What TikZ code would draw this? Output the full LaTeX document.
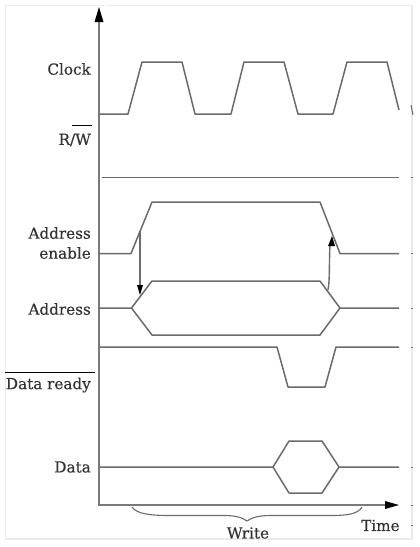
\documentclass[tikz,border=0pt]{standalone}
\usepackage{fontspec}
\setmainfont[FakeBold=0.4]{DejaVu Serif}
\usetikzlibrary{arrows.meta}
\definecolor{sig}{gray}{0.42}
\definecolor{ax}{gray}{0.48}
\definecolor{lab}{gray}{0.2}
\definecolor{fr}{gray}{0.92}
\tikzset{
  x=1pt,y=-1pt,
  signal/.style={draw=sig,line width=1.5pt,line join=round},
  axisline/.style={draw=ax,line width=2pt},
  lbl/.style={anchor=east,inner sep=0pt,text=lab,font=\fontsize{15.2}{17}\selectfont,align=right},
  plain/.style={inner sep=0pt,text=lab,font=\fontsize{15.2}{17}\selectfont},
  over/.style={draw=black,line width=0.9pt},
  frag/.style={draw=sig,line width=1pt},
}
\begin{document}
\begin{tikzpicture}
\useasboundingbox (0,0) rectangle (420,547);
\fill[white] (0,0) rectangle (420,547);
% faint frame
\draw[fr,line width=1.2pt] (105,5.5) -- (5.5,5.5) -- (5.5,539) -- (412,539) -- (412,5.5) -- (108,5.5);
% axes
\coordinate (origin) at (99,505);
\coordinate (ytop) at (99,7);
\coordinate (xend) at (399,505);
\draw[axisline] (99,22) -- (origin) -- (385,505);
\fill[black] (ytop) -- (103.5,22) -- (94.5,22) -- cycle;
\fill[black] (xend) -- (385,501) -- (385,509) -- cycle;
% clock
\draw[signal] (99,114) -- (128,114) -- (142,62) -- (182,62) -- (195,114) -- (231,114) -- (244,62) -- (284,62) -- (298,114) -- (333,114) -- (347,62) -- (387,62) -- (399,110);
\draw[frag] (411,105) -- (413,115);
% R/W
\draw[signal] (102,177.5) -- (399,177.5);
% address enable
\draw[signal] (99,253.5) -- (131,253.5) -- (152,202) -- (320,202) -- (340,253.5) -- (399,253.5);
% address
\draw[signal] (99,308) -- (131.5,308) -- (152,281) -- (320,281) -- (340,308) -- (399,308);
\draw[signal] (131.5,308) -- (152,335) -- (320,335) -- (340,308);
% causal arrows
\coordinate (a1) at (140,231);
\coordinate (a2) at (140,295);
\draw[draw=sig,line width=1.4pt] (a1) -- (140,287);
\fill[black] (a2) -- (137,285) -- (143,285) -- cycle;
\coordinate (b1) at (328,290);
\coordinate (b2) at (332,236);
\draw[draw=sig,line width=1.4pt] (b1) .. controls (330,280) and (329,262) .. (330,245);
\fill[black] (b2) -- (328,246) -- (335,246) -- cycle;
% data ready
\draw[signal] (99,347) -- (277,347) -- (288,387) -- (325,387) -- (336,347) -- (399,347);
% data
\draw[signal] (99,467) -- (273,467) -- (289,441) -- (322,441) -- (339,467) -- (399,467);
\draw[signal] (273,467) -- (289,493) -- (322,493) -- (339,467);
% brace
\coordinate (bl) at (132,507);
\coordinate (bm) at (247,521);
\coordinate (br) at (362,507);
\draw[draw=sig,line width=1.1pt] (bl) .. controls (137,514) and (150,515.5) .. (170,515.5) -- (225,515.5) .. controls (236,515.5) and (243,518) .. (bm) .. controls (251,518) and (258,515.5) .. (270,515.5) -- (330,515.5) .. controls (348,515.5) and (358,514) .. (br);
% labels
\node[lbl] (clock) at (91,69) {Clock};
\node[lbl] (rw) at (91,140) {R/W};
\node[lbl,align=right] (ae) at (91,243) {Address\\[3pt]enable};
\node[lbl] (addr) at (91,309) {Address};
\node[lbl] (dr) at (91,385) {Data ready};
\node[lbl] (data) at (91,467) {Data};
\draw[over] (72,125.5) -- (92,125.5);
\draw[over] (5,372.5) -- (95,372.5);
\node[plain] (write) at (248,533) {Write};
\begin{scope}
\clip (355,512) rectangle (399,540);
\node[plain,anchor=west] (time) at (361,525.5) {Time};
\end{scope}
% remnants at the right edge
\foreach \yy in {177.5,253.5,308,347,467,505,525}{
  \draw[sig,line width=1pt] (411,\yy) -- (413,\yy);
}
\end{tikzpicture}
\end{document}
